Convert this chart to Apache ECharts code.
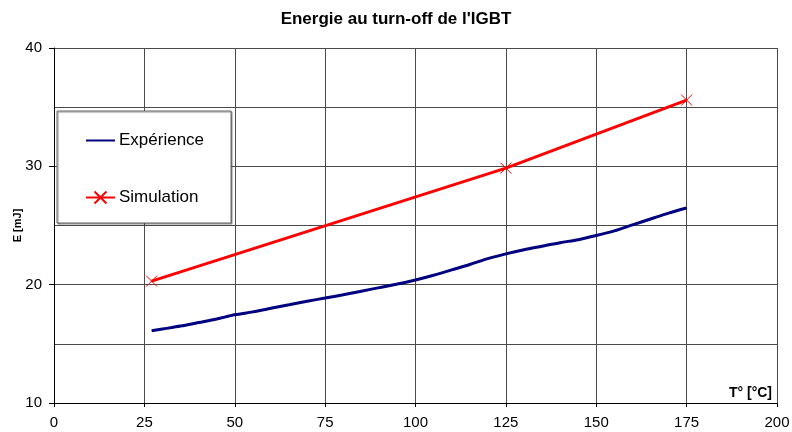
<!DOCTYPE html>
<html>
<head>
<meta charset="utf-8">
<script src="https://cdn.jsdelivr.net/npm/echarts@6/dist/echarts.min.js"></script>
<style>
  html, body { margin: 0; padding: 0; background: #fff; }
  #chart { width: 792px; height: 432px; }
</style>
</head>
<body>
<div id="chart"></div>
<script>
// Turn-off energy of the IGBT versus junction temperature
const titleText = "Energie au turn-off de l'IGBT";
const xName = 'T° [°C]';
const yName = 'E [mJ]';

// Measured curve (Expérience)
const expTemps = [27, 30, 35, 40, 45, 50, 55, 60, 65, 70, 75, 80, 85, 90, 95, 100,
                  105, 110, 115, 120, 125, 130, 135, 140, 145, 150, 155, 160, 165, 170, 175];
const expEnergy = [16.1, 16.25, 16.5, 16.8, 17.1, 17.45, 17.7, 18.0, 18.3, 18.6, 18.87,
                   19.15, 19.45, 19.75, 20.05, 20.4, 20.8, 21.25, 21.7, 22.2, 22.6,
                   22.95, 23.25, 23.55, 23.8, 24.15, 24.55, 25.05, 25.55, 26.05, 26.48];

// Simulated points (Simulation)
const simTemps = [27, 125, 175];
const simEnergy = [20.3, 29.85, 35.6];

const pair = (xs, ys) => xs.map((x, i) => [x, ys[i]]);

const font = 'Liberation Sans, Arial, sans-serif';
const gridColor = '#4a4a4a';
const crossSymbol = 'path://M0,0L10,10M10,0L0,10';

const chart = echarts.init(document.getElementById('chart'), null, { renderer: 'canvas' });
chart.setOption({
  animation: false,
  backgroundColor: '#ffffff',
  textStyle: { fontFamily: font },
  title: {
    text: titleText,
    left: 'center',
    top: 6,
    textStyle: { fontFamily: font, fontSize: 17, fontWeight: 'bold', color: '#000' }
  },
  grid: {
    left: 54, right: 15, top: 48, bottom: 29,
    containLabel: false,
    outerBoundsMode: 'none'
  },
  legend: {
    orient: 'vertical',
    left: 57,
    top: 111,
    padding: [21, 27, 17, 28],
    itemGap: 40,
    itemWidth: 29,
    itemHeight: 15,
    backgroundColor: '#ffffff',
    borderColor: '#666',
    borderWidth: 1,
    borderRadius: 0,
    shadowColor: 'rgba(0,0,0,0.45)',
    shadowBlur: 1,
    shadowOffsetX: 1,
    shadowOffsetY: 1,
    textStyle: { fontFamily: font, fontSize: 17, color: '#000', padding: [0, 0, 0, -1] },
    data: [
      { name: 'Expérience', itemStyle: { opacity: 0 } },
      { name: 'Simulation' }
    ]
  },
  xAxis: {
    type: 'value',
    min: 0,
    max: 200,
    interval: 25,
    name: xName,
    nameLocation: 'end',
    nameGap: -5,
    nameTextStyle: {
      fontFamily: font, fontSize: 14, fontWeight: 'bold', color: '#000',
      align: 'right', verticalAlign: 'bottom', padding: [0, 0, 3, 0]
    },
    axisLine: { show: true, lineStyle: { color: '#000', width: 1 } },
    axisTick: { show: true, inside: false, length: 4, lineStyle: { color: '#000' } },
    axisLabel: { fontFamily: font, fontSize: 15, color: '#000', margin: 12 },
    splitLine: { show: true, lineStyle: { color: gridColor, width: 1 } }
  },
  yAxis: {
    type: 'value',
    min: 10,
    max: 40,
    interval: 10,
    name: yName,
    nameLocation: 'middle',
    nameGap: 31,
    nameMoveOverlap: false,
    nameTextStyle: { fontFamily: font, fontSize: 11, fontWeight: 'bold', color: '#000' },
    axisLine: { show: true, lineStyle: { color: '#000', width: 1 } },
    axisTick: { show: true, inside: false, length: 5, lineStyle: { color: '#000' } },
    axisLabel: { fontFamily: font, fontSize: 15, color: '#000', margin: 12 },
    splitLine: { show: true, lineStyle: { color: gridColor, width: 1 } },
    minorTick: { show: false, splitNumber: 2 },
    minorSplitLine: { show: true, lineStyle: { color: gridColor, width: 1 } }
  },
  series: [
    {
      name: 'Expérience',
      type: 'line',
      data: pair(expTemps, expEnergy),
      symbol: 'none',
      showSymbol: false,
      smooth: 0.3,
      lineStyle: { color: '#000080', width: 3 },
      itemStyle: { color: '#000080' },
      z: 3
    },
    {
      name: 'Simulation',
      type: 'line',
      data: pair(simTemps, simEnergy),
      symbol: crossSymbol,
      symbolSize: 11,
      showSymbol: true,
      lineStyle: { color: '#ff0000', width: 3 },
      itemStyle: { color: 'rgba(0,0,0,0)', borderColor: '#ff0000', borderWidth: 1 },
      z: 4
    }
  ]
});
</script>
</body>
</html>
